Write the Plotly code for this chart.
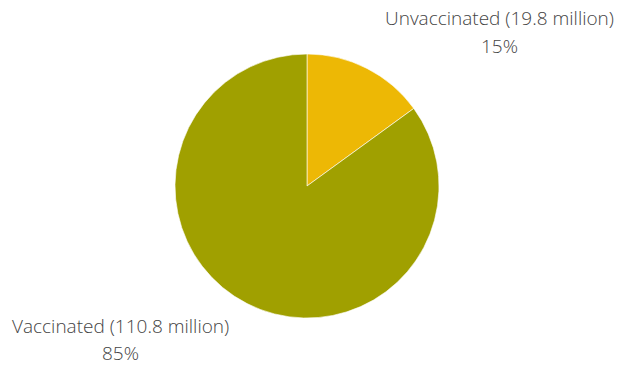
import plotly.graph_objects as go

labels = ["Unvaccinated", "Vaccinated"]
millions = [19.8, 110.8]
percents = [15, 85]
colors = ["#EDB805", "#A0A000"]

W, H = 619, 365

fig = go.Figure(go.Pie(
    labels=labels,
    values=percents,
    sort=False,
    direction="clockwise",
    rotation=0,
    marker=dict(colors=colors, line=dict(color="rgba(255,255,255,0.6)", width=1)),
    textinfo="none",
    hoverinfo="label+percent",
    domain=dict(x=[(307 - 200) / W, (307 + 200) / W],
                y=[1 - 318 / H, 1 - 54 / H]),
))

# label positions (pixels): (center x, first line y, second line y)
pos = [(499, 18, 46), (120, 326, 353)]
anns = []
for lab, m, p, (cx, y1, y2) in zip(labels, millions, percents, pos):
    anns.append(dict(text=f"{lab} ({m} million)", x=cx / W, y=1 - y1 / H,
                     xref="paper", yref="paper", showarrow=False,
                     xanchor="center", yanchor="middle"))
    anns.append(dict(text=f"{p}%", x=cx / W, y=1 - y2 / H,
                     xref="paper", yref="paper", showarrow=False,
                     xanchor="center", yanchor="middle"))

fig.update_layout(
    width=W, height=H,
    margin=dict(l=0, r=0, t=0, b=0),
    paper_bgcolor="white",
    plot_bgcolor="white",
    showlegend=False,
    font=dict(family="Open Sans", size=19, color="#444444", weight=300),
    annotations=anns,
)

fig.write_html("out.html",
               config={"displayModeBar": False},
               post_script="document.body.style.margin='0';document.body.style.overflow='hidden';")
